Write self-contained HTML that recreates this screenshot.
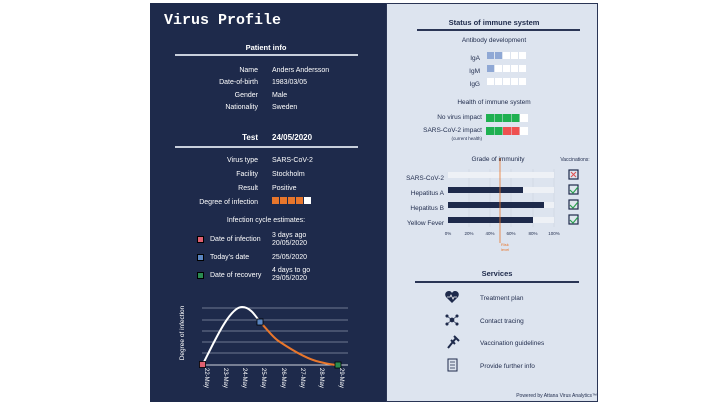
<!DOCTYPE html>
<html><head><meta charset="utf-8"><style>
*{margin:0;padding:0;box-sizing:border-box}
body{width:720px;height:405px;background:#fff;position:relative;overflow:hidden;font-family:"Liberation Sans",sans-serif}
.a{position:absolute;white-space:nowrap}
#L{position:absolute;left:150px;top:3px;width:236px;height:399px;background:#1e2a4b}
#R{position:absolute;left:386px;top:3px;width:212px;height:399px;background:#dde4ef;border:1px solid #2a3555}
.w{color:#fff;font-size:7px}
.d{color:#1e2a4b;font-size:6.5px}
.r{text-align:right}
.c{transform:translateX(-50%)}
.b{position:absolute;width:7px;height:7px}
</style></head><body>
<div id="L"></div><div id="R"></div>
<div class="a" style="left:164px;top:12px;color:#fff;font:bold 15px 'Liberation Mono',monospace">Virus Profile</div>
<div class="a w c" style="left:266px;top:43px;font-weight:bold;font-size:7.5px">Patient info</div>
<div class="a" style="left:175px;top:54px;width:183px;height:1.5px;background:#c8cfdc"></div>
<div class="a w r" style="left:190px;width:68px;top:65px;line-height:12.3px">Name<br>Date-of-birth<br>Gender<br>Nationality</div>
<div class="a w" style="left:272px;top:65px;line-height:12.3px">Anders Andersson<br>1983/03/05<br>Male<br>Sweden</div>
<div class="a w r" style="left:190px;width:68px;top:133px;font-weight:bold;font-size:8px">Test</div>
<div class="a w" style="left:272px;top:133px;font-weight:bold;font-size:8px">24/05/2020</div>
<div class="a" style="left:175px;top:146px;width:183px;height:1.5px;background:#c8cfdc"></div>
<div class="a w r" style="left:170px;width:88px;top:154px;line-height:14px">Virus type<br>Facility<br>Result<br>Degree of infection</div>
<div class="a w" style="left:272px;top:154px;line-height:14px">SARS-CoV-2<br>Stockholm<br>Positive</div>
<div class="b" style="left:272px;top:197px;background:#e8762c"></div>
<div class="b" style="left:280px;top:197px;background:#e8762c"></div>
<div class="b" style="left:288px;top:197px;background:#e8762c"></div>
<div class="b" style="left:296px;top:197px;background:#e8762c"></div>
<div class="b" style="left:304px;top:197px;background:#fff"></div>
<div class="a w c" style="left:266px;top:217px">Infection cycle estimates:</div>
<div class="b" style="left:197px;top:236px;background:#e06070;border:1px solid #000"></div>
<div class="b" style="left:197px;top:254px;background:#5a85c0;border:1px solid #000"></div>
<div class="b" style="left:197px;top:272px;background:#2a8a50;border:1px solid #000"></div>
<div class="a w" style="left:210px;top:236px">Date of infection</div>
<div class="a w" style="left:210px;top:254px">Today's date</div>
<div class="a w" style="left:210px;top:272px">Date of recovery</div>
<div class="a w" style="left:272px;top:232px;line-height:8px">3 days ago<br>20/05/2020</div>
<div class="a w" style="left:272px;top:254px">25/05/2020</div>
<div class="a w" style="left:272px;top:267px;line-height:8px">4 days to go<br>29/05/2020</div>
<svg class="a" style="left:150px;top:290px" width="236" height="112">
<g stroke="#8a93a8" stroke-width="0.7">
<line x1="52" x2="198" y1="18" y2="18"/><line x1="52" x2="198" y1="30" y2="30"/><line x1="52" x2="198" y1="41" y2="41"/><line x1="52" x2="198" y1="52" y2="52"/><line x1="52" x2="198" y1="63" y2="63"/></g>
<line x1="50" x2="198" y1="75" y2="75" stroke="#d0d4de" stroke-width="1"/>
<path d="M53 74 C65 50,80 17,92 17 C100 17,105 25,110 32" stroke="#fff" stroke-width="2" fill="none"/>
<path d="M110 32 C118 40,123 48,130 52 C145 62,160 70,170 72 C178 74,183 75,188 75" stroke="#e8762c" stroke-width="2" fill="none"/>
<rect x="49.5" y="71.5" width="6" height="6" fill="#e06070" stroke="#000" stroke-width=".8"/>
<rect x="107" y="29" width="6" height="6" fill="#5a85c0" stroke="#000" stroke-width=".8"/>
<rect x="185" y="72" width="6" height="6" fill="#2a8a50" stroke="#000" stroke-width=".8"/>
<text transform="translate(34,43) rotate(-90)" fill="#fff" font-size="6.5" text-anchor="middle" font-family="Liberation Sans">Degree of infection</text>
<g fill="#fff" font-size="6" font-family="Liberation Sans">
<text transform="translate(55,78) rotate(90)">22-May</text><text transform="translate(74,78) rotate(90)">23-May</text><text transform="translate(93,78) rotate(90)">24-May</text><text transform="translate(112,78) rotate(90)">25-May</text><text transform="translate(132,78) rotate(90)">26-May</text><text transform="translate(151,78) rotate(90)">27-May</text><text transform="translate(170,78) rotate(90)">28-May</text><text transform="translate(190,78) rotate(90)">29-May</text></g>
</svg>

<div class="a d c" style="left:494px;top:18px;font-weight:bold;font-size:7.5px">Status of immune system</div>
<div class="a" style="left:417px;top:29px;width:163px;height:1.5px;background:#2a3555"></div>
<div class="a d c" style="left:494px;top:37px">Antibody development</div>
<div class="a d r" style="left:440px;width:40px;top:52px;line-height:13px">IgA<br>IgM<br>IgG</div>
<svg class="a" style="left:487px;top:52px" width="50" height="40">
<g fill="#fff"><rect x="0" y="0" width="7" height="7" fill="#8fa8d5"/><rect x="8" y="0" width="7" height="7" fill="#8fa8d5"/><rect x="16" y="0" width="7" height="7"/><rect x="24" y="0" width="7" height="7"/><rect x="32" y="0" width="7" height="7"/>
<rect x="0" y="13" width="7" height="7" fill="#8fa8d5"/><rect x="8" y="13" width="7" height="7"/><rect x="16" y="13" width="7" height="7"/><rect x="24" y="13" width="7" height="7"/><rect x="32" y="13" width="7" height="7"/>
<rect x="0" y="26" width="7" height="7"/><rect x="8" y="26" width="7" height="7"/><rect x="16" y="26" width="7" height="7"/><rect x="24" y="26" width="7" height="7"/><rect x="32" y="26" width="7" height="7"/></g></svg>
<div class="a d c" style="left:494px;top:99px">Health of immune system</div>
<div class="a d r" style="left:420px;width:62px;top:114px">No virus impact</div>
<div class="a d r" style="left:420px;width:62px;top:127px">SARS-CoV-2 impact</div>
<div class="a d r" style="left:420px;width:62px;top:136px;font-size:4.5px">(current health)</div>
<svg class="a" style="left:486px;top:114px" width="50" height="25">
<rect x="0" y="0" width="8" height="8" fill="#1eb050"/><rect x="8.5" y="0" width="8" height="8" fill="#1eb050"/><rect x="17" y="0" width="8" height="8" fill="#1eb050"/><rect x="25.5" y="0" width="8" height="8" fill="#1eb050"/><rect x="34" y="0" width="8" height="8" fill="#fff"/>
<rect x="0" y="13" width="8" height="8" fill="#1eb050"/><rect x="8.5" y="13" width="8" height="8" fill="#1eb050"/><rect x="17" y="13" width="8" height="8" fill="#ee5050"/><rect x="25.5" y="13" width="8" height="8" fill="#ee5050"/><rect x="34" y="13" width="8" height="8" fill="#fff"/></svg>
<div class="a d c" style="left:498px;top:156px">Grade of immunity</div>
<div class="a d c" style="left:575px;top:157px;font-size:5px">Vaccinations:</div>
<div class="a d r" style="left:395px;width:49px;top:171px;line-height:15px">SARS-CoV-2<br>Hepatitus A<br>Hepatitus B<br>Yellow Fever</div>
<svg class="a" style="left:440px;top:158px" width="160" height="97">
<g transform="translate(0,7)">
<g stroke="#c9d0dc" stroke-width=".5"><line x1="29" x2="29" y1="4" y2="62"/><line x1="50" x2="50" y1="4" y2="62"/><line x1="71" x2="71" y1="4" y2="62"/><line x1="93" x2="93" y1="4" y2="62"/><line x1="114" x2="114" y1="4" y2="62"/></g>
<g fill="#eef1f6"><rect x="8" y="7" width="106" height="6"/><rect x="8" y="22" width="106" height="6"/><rect x="8" y="37" width="106" height="6"/><rect x="8" y="52" width="106" height="6"/></g>
<g fill="#1e2a4b"><rect x="8" y="22" width="75" height="6"/><rect x="8" y="37" width="96" height="6"/><rect x="8" y="52" width="85" height="6"/></g>
<line x1="60" x2="60" y1="-7" y2="78" stroke="#e8762c" stroke-width=".8"/>
<g fill="#1e2a4b" font-size="4.5" font-family="Liberation Sans" text-anchor="middle"><text x="8" y="70">0%</text><text x="29" y="70">20%</text><text x="50" y="70">40%</text><text x="71" y="70">60%</text><text x="93" y="70">80%</text><text x="114" y="70">100%</text></g>
<text x="61" y="81" fill="#e8762c" font-size="4" font-family="Liberation Sans">Risk</text><text x="61" y="86" fill="#e8762c" font-size="4" font-family="Liberation Sans">level</text>
<g fill="#dfe6ee" stroke="#1e2a4b" stroke-width="1.2"><rect x="129" y="5" width="9" height="9"/><rect x="129" y="20" width="9" height="9"/><rect x="129" y="35" width="9" height="9"/><rect x="129" y="50" width="9" height="9"/></g>
<path d="M131 7l5 5M136 7l-5 5" stroke="#e05050" stroke-width="1"/>
<g stroke="#2ca050" stroke-width="1.2" fill="none"><path d="M130 25l3 3 5-6"/><path d="M130 40l3 3 5-6"/><path d="M130 55l3 3 5-6"/></g>
</g></svg>
<div class="a d c" style="left:497px;top:269px;font-weight:bold;font-size:7.5px">Services</div>
<div class="a" style="left:415px;top:281px;width:164px;height:1.5px;background:#2a3555"></div>
<div class="a d" style="left:480px;top:288px;line-height:22.7px">Treatment plan<br>Contact tracing<br>Vaccination guidelines<br>Provide further info</div>
<svg class="a" style="left:444px;top:290px" width="18" height="88">
<path d="M8 13 L2 7 C0 4,2 1,5 1 C6.5 1,7.5 2,8 3 C8.5 2,9.5 1,11 1 C14 1,16 4,14 7Z" fill="#1e2a4b"/>
<path d="M3 7h3l1-2 2 4 1-2h3" stroke="#fff" stroke-width=".8" fill="none"/>
<g fill="#1e2a4b" stroke="#1e2a4b" stroke-width=".7"><circle cx="8" cy="30" r="2"/><circle cx="3" cy="26" r="1.2"/><circle cx="13" cy="26" r="1.2"/><circle cx="3" cy="34" r="1.2"/><circle cx="13" cy="34" r="1.2"/><line x1="3" y1="26" x2="13" y2="34"/><line x1="13" y1="26" x2="3" y2="34"/></g>
<path d="M4 58 L12 48 M10 46 L15 51 M7 50 L11 54" stroke="#1e2a4b" stroke-width="2" fill="none"/>
<rect x="4" y="69" width="9" height="12" fill="none" stroke="#1e2a4b" stroke-width="1"/>
<path d="M6 72h5M6 75h5M6 78h5" stroke="#1e2a4b" stroke-width=".7"/>
</svg>
<div class="a d r" style="left:480px;width:117px;top:393px;font-size:5px">Powered by Attana Virus Analytics™</div>
</body></html>
